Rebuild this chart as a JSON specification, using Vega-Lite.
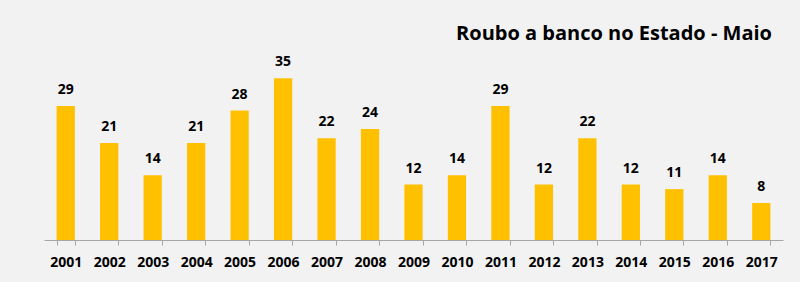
{
  "$schema": "https://vega.github.io/schema/vega-lite/v6.json",
  "autosize": "none",
  "width": 739,
  "height": 185,
  "padding": {"left": 44, "top": 55, "right": 17, "bottom": 42},
  "background": "#F2F2F2",
  "config": {"view": {"stroke": null}, "font": "Open Sans"},
  "title": {
    "text": "Roubo a banco no Estado - Maio",
    "anchor": "end",
    "fontSize": 20,
    "fontWeight": "bold",
    "color": "#000000",
    "font": "Open Sans",
    "offset": 11,
    "dx": -11
  },
  "data": {
    "values": [
      {"ano": "2001", "v": 29}, {"ano": "2002", "v": 21}, {"ano": "2003", "v": 14},
      {"ano": "2004", "v": 21}, {"ano": "2005", "v": 28}, {"ano": "2006", "v": 35},
      {"ano": "2007", "v": 22}, {"ano": "2008", "v": 24}, {"ano": "2009", "v": 12},
      {"ano": "2010", "v": 14}, {"ano": "2011", "v": 29}, {"ano": "2012", "v": 12},
      {"ano": "2013", "v": 22}, {"ano": "2014", "v": 12}, {"ano": "2015", "v": 11},
      {"ano": "2016", "v": 14}, {"ano": "2017", "v": 8}
    ]
  },
  "encoding": {
    "x": {
      "field": "ano", "type": "ordinal",
      "scale": {"paddingInner": 0.58, "paddingOuter": 0.29},
      "axis": {
        "title": null, "labelAngle": 0, "tickBand": "extent",
        "domainColor": "#A6A6A6", "tickColor": "#A6A6A6", "tickSize": 5,
        "labelFontSize": 14, "labelFontWeight": "bold", "labelColor": "#000000",
        "labelPadding": 10, "labelFont": "Open Sans"
      }
    },
    "y": {
      "field": "v", "type": "quantitative",
      "scale": {"domain": [0, 40]},
      "axis": null
    }
  },
  "layer": [
    {"mark": {"type": "bar", "color": "#FFC000"}},
    {
      "mark": {"type": "text", "dy": -16, "fontSize": 14, "fontWeight": "bold", "color": "#000000", "font": "Open Sans"},
      "encoding": {"text": {"field": "v", "type": "quantitative"}}
    }
  ]
}
